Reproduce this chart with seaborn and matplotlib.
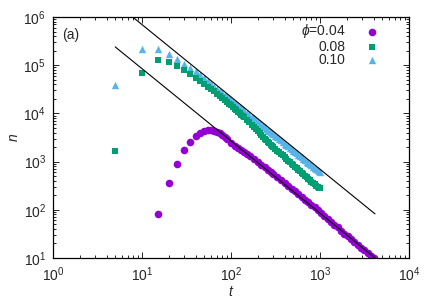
import numpy as np
import pandas as pd
import seaborn as sns
import matplotlib
matplotlib.use("Agg")
import matplotlib.pyplot as plt

# values
t_04 = [15, 20, 25, 30, 35, 40, 45, 50, 55, 60, 65, 70, 75, 80, 85, 90, 100, 110, 120, 130,
        140, 150, 165, 180, 200, 220, 240, 260, 280, 300, 330, 360, 400, 440, 480, 520, 570,
        620, 680, 740, 800, 870, 950, 1030, 1120, 1220, 1330, 1450, 1580, 1720, 1870, 2040,
        2220, 2420, 2640, 2880, 3140, 3420, 3730, 4000]
n_04 = [80, 360, 900, 1700, 2550, 3350, 3950, 4350, 4520, 4520, 4380, 4150, 3900, 3600, 3250,
        2950, 2450, 2150, 1900, 1700, 1560, 1450, 1280, 1130, 990, 860, 760, 680, 610, 550, 480,
        420, 360, 310, 275, 243, 212, 187, 162, 142, 126, 112, 98, 86, 75, 65, 57, 49, 43, 37,
        32, 28, 24.5, 21.5, 19, 16.5, 14.5, 12.5, 11, 10]

t_hi = [5, 10, 15, 20, 25, 30, 35, 40, 45, 50, 55, 60, 65, 70, 75, 80, 85, 90, 95,
        100, 105, 110, 115, 120, 125, 130, 135, 140, 150, 160, 170, 180, 190,
        200, 210, 220, 230, 240, 250, 260, 270, 280, 290,
        300, 315, 330, 345, 360, 380, 400, 420, 440, 460, 480, 500, 520, 545, 570, 595,
        620, 650, 680, 710, 740, 770, 800, 835, 870, 905, 940, 970, 1000]
n_08 = [1650, 69000, 126000, 118000, 96000, 78000, 65000, 55000, 47000, 41000, 36000, 32000,
        28500, 25500, 23000, 21000, 19200, 17500, 16000,
        14600, 13500, 12500, 11600, 10800, 10100, 9400, 8850, 8300, 7300, 6500, 5800, 5200, 4700,
        4250, 3900, 3550, 3270, 3000, 2780, 2580, 2400, 2250, 2110,
        1980, 1830, 1690, 1570, 1460, 1340, 1230, 1130, 1050, 970, 905, 845, 790, 730, 675, 630,
        590, 545, 505, 470, 440, 410, 385, 360, 335, 315, 300, 290, 280]
n_10 = [39000, 222000, 222000, 170000, 132000, 107000, 89000, 75000, 62500, 53500, 46400, 40700,
        36100, 32300, 29100, 26400, 24100, 22200, 20400,
        18900, 17600, 16400, 15300, 14400, 13500, 12800, 12100, 11400, 10300, 9350, 8550, 7850, 7250,
        6700, 6200, 5800, 5420, 5100, 4790, 4520, 4260, 4050, 3830,
        3650, 3380, 3170, 2950, 2780, 2550, 2370, 2200, 2060, 1920, 1810, 1690, 1600, 1490, 1400, 1300,
        1240, 1140, 1080, 1000, 950, 885, 850, 785, 750, 695, 670, 630, 610]

labels = [r"$\phi$=0.04", "0.08", "0.10"]
colors = ["#9400D3", "#009E73", "#56B4E9"]

# power law guides n ~ A t^-1.5
slope = -1.5
amp_upper, amp_lower = 2.2e7, 2.68e6
t_upper = np.array([5, 4150])
t_lower = np.array([5, 4200])

sns.set_style("ticks")
plt.rcParams["font.family"] = ["Liberation Sans", "DejaVu Sans"]
plt.rcParams["mathtext.fontset"] = "custom"
plt.rcParams["mathtext.rm"] = "Liberation Sans"
plt.rcParams["mathtext.it"] = "Liberation Sans:italic"
plt.rcParams["font.size"] = 9

fig = plt.figure(figsize=(4.36, 3.05), dpi=100)
ax = fig.add_axes([53 / 436, 47 / 305, 356 / 436, 241 / 305])

ax.plot(t_upper, amp_upper * t_upper ** slope, color="black", lw=0.8, zorder=3)
ax.plot(t_lower, amp_lower * t_lower ** slope, color="black", lw=0.8, zorder=3)

df04 = pd.DataFrame({"t": t_04, "n": n_04})
df08 = pd.DataFrame({"t": t_hi, "n": n_08})
df10 = pd.DataFrame({"t": t_hi, "n": n_10})
sns.scatterplot(data=df04, x="t", y="n", ax=ax, color=colors[0], marker="o", s=30,
                linewidth=0, label=labels[0], zorder=2)
sns.scatterplot(data=df08, x="t", y="n", ax=ax, color=colors[1], marker="s", s=24,
                linewidth=0, label=labels[1], zorder=2)
sns.scatterplot(data=df10, x="t", y="n", ax=ax, color=colors[2], marker="^", s=28,
                linewidth=0, label=labels[2], zorder=1)

ax.set_xscale("log")
ax.set_yscale("log")
ax.set_xlim(1, 1e4)
ax.set_ylim(10, 1e6)
ax.set_xlabel(r"$t$", fontsize=10, labelpad=1)
ax.set_ylabel(r"$n$", fontsize=10, labelpad=2)

for s in ax.spines.values():
    s.set_linewidth(0.9)
    s.set_color("black")
ax.tick_params(which="both", direction="in", top=True, right=True, color="black", width=0.6)
ax.tick_params(which="major", length=4.5, labelsize=10, pad=5)
ax.tick_params(which="minor", length=2.2)

ax.text(0.025, 0.925, "(a)", transform=ax.transAxes, fontsize=10, va="center")

leg = ax.legend(loc="upper right", bbox_to_anchor=(0.916, 0.978), frameon=False,
                markerfirst=False, handlelength=1.0, handletextpad=1.4, borderpad=0,
                borderaxespad=0, labelspacing=-0.05, fontsize=10, markerscale=1.0)

fig.savefig("out.png", dpi=100)
